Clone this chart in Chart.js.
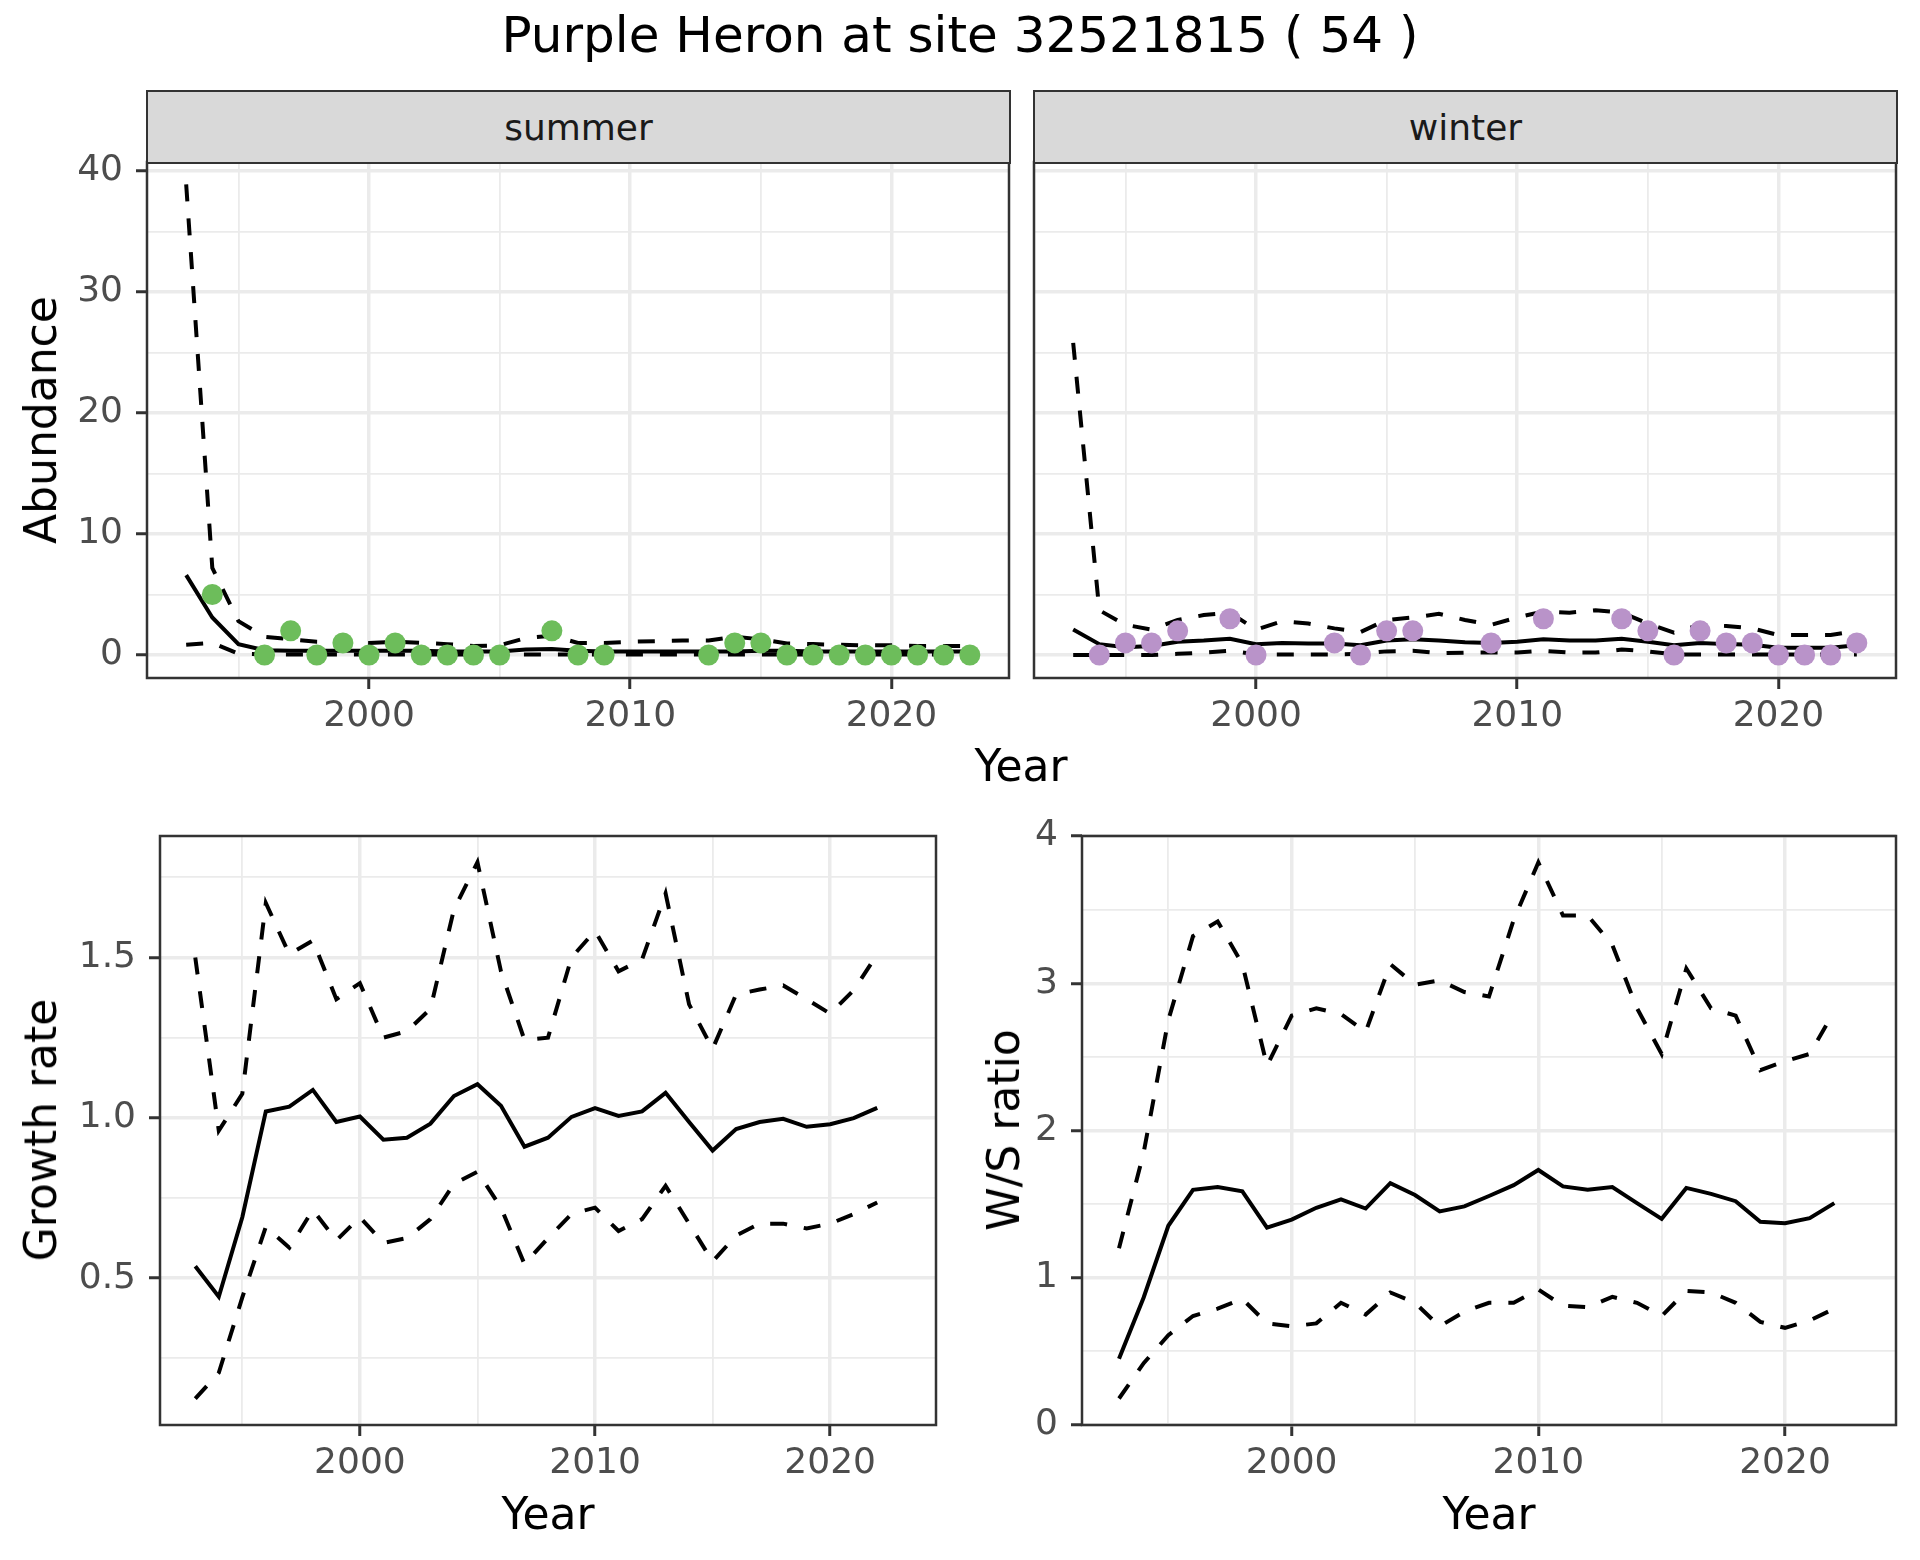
<!DOCTYPE html>
<html>
<head>
<meta charset="utf-8">
<script src="https://cdn.jsdelivr.net/npm/chart.js@4.4.1/dist/chart.umd.min.js"></script>
<style>
  body { margin: 0; width: 1920px; height: 1560px; background: #fff; position: relative; overflow: hidden; font-family: "DejaVu Sans", sans-serif; }
  .box { position: absolute; }
  .txt { position: absolute; white-space: nowrap; line-height: 1; color: #000; }
  .strip { position: absolute; box-sizing: border-box; background: #d9d9d9; border: 2.5px solid #333; color: #1a1a1a;
           font-size: 36px; display: flex; align-items: center; justify-content: center; z-index: 2; }
  .ytitle { position: absolute; white-space: nowrap; line-height: 1; font-size: 44px; transform: translate(-50%, -50%) rotate(-90deg); }
</style>
</head>
<body>
<div class="txt" style="left:960px; top:10px; font-size:50px; transform:translateX(-50%);">Purple Heron at site 32521815 ( 54 )</div>

<div class="strip" style="left:146px; top:90px; width:865px; height:74px;">summer</div>
<div class="strip" style="left:1033px; top:90px; width:865px; height:74px;">winter</div>

<div class="box" style="left:0px; top:142px; width:1013px; height:616px;"><canvas id="summerChart"></canvas></div>
<div class="box" style="left:1030px; top:142px; width:870px; height:616px;"><canvas id="winterChart"></canvas></div>
<div class="box" style="left:0px; top:816px; width:940px; height:689px;"><canvas id="growthChart"></canvas></div>
<div class="box" style="left:940px; top:816px; width:960px; height:689px;"><canvas id="ratioChart"></canvas></div>

<div class="ytitle" style="left:41px; top:420px;">Abundance</div>
<div class="ytitle" style="left:41px; top:1130px;">Growth rate</div>
<div class="ytitle" style="left:1004px; top:1130px;">W/S ratio</div>
<div class="txt" style="left:1021px; top:744px; font-size:44px; transform:translateX(-50%);">Year</div>
<div class="txt" style="left:548px; top:1492px; font-size:44px; transform:translateX(-50%);">Year</div>
<div class="txt" style="left:1489px; top:1492px; font-size:44px; transform:translateX(-50%);">Year</div>

<script>
// Years of the survey
const years = [1993, 1994, 1995, 1996, 1997, 1998, 1999, 2000, 2001, 2002, 2003, 2004, 2005, 2006, 2007, 2008,
  2009, 2010, 2011, 2012, 2013, 2014, 2015, 2016, 2017, 2018, 2019, 2020, 2021, 2022, 2023];
const rateYears = [1993, 1994, 1995, 1996, 1997, 1998, 1999, 2000, 2001, 2002, 2003, 2004, 2005, 2006, 2007, 2008,
  2009, 2010, 2011, 2012, 2013, 2014, 2015, 2016, 2017, 2018, 2019, 2020, 2021, 2022];

// Summer counts and fitted abundance
const summerCounts = [null, 5, null, 0, 2, 0, 1, 0, 1, 0, 0, 0, 0, null, 2, 0, 0, null, null, null, 0, 1, 1, 0, 0, 0, 0, 0, 0, 0, 0];
const summerMean = [6.6, 3.1, 0.9, 0.4, 0.35, 0.35, 0.35, 0.35, 0.35, 0.35, 0.3, 0.3, 0.3, 0.45, 0.5, 0.35, 0.3, 0.3, 0.3, 0.3, 0.3, 0.3, 0.35, 0.35, 0.3, 0.3, 0.3, 0.3, 0.3, 0.3, 0.3];
const summerUpper = [38.9, 7.2, 2.8, 1.5, 1.3, 1.1, 1.05, 1.0, 1.1, 1.0, 0.9, 0.75, 0.8, 1.4, 1.6, 1.0, 1.0, 1.1, 1.15, 1.2, 1.2, 1.5, 1.3, 0.95, 0.9, 0.85, 0.8, 0.8, 0.75, 0.75, 0.75];
const summerLower = [0.85, 1.0, 0.1, 0.05, 0.05, 0.05, 0.05, 0.05, 0.05, 0.05, 0.05, 0.05, 0.05, 0.05, 0.05, 0.05, 0.05, 0.05, 0.05, 0.05, 0.05, 0.05, 0.05, 0.05, 0.05, 0.05, 0.05, 0.05, 0.05, 0.05, 0.05];

// Winter counts and fitted abundance
const winterCounts = [null, 0, 1, 1, 2, null, 3, 0, null, null, 1, 0, 2, 2, null, null, 1, null, 3, null, null, 3, 2, 0, 2, 1, 1, 0, 0, 0, 1];
const winterMean = [2.1, 0.9, 0.65, 0.75, 1.1, 1.2, 1.35, 0.9, 1.0, 0.95, 0.95, 0.8, 1.2, 1.3, 1.2, 1.05, 1.0, 1.1, 1.3, 1.2, 1.2, 1.35, 1.1, 0.8, 1.0, 0.9, 0.85, 0.6, 0.6, 0.6, 0.8];
const winterUpper = [25.8, 3.7, 2.5, 2.1, 2.9, 3.3, 3.5, 2.1, 2.8, 2.6, 2.2, 1.9, 2.9, 3.1, 3.4, 2.9, 2.5, 3.1, 3.6, 3.5, 3.7, 3.5, 2.6, 1.85, 2.5, 2.4, 2.2, 1.65, 1.65, 1.65, 2.0];
const winterLower = [0, 0, 0, 0, 0.1, 0.2, 0.35, 0.05, 0.05, 0.05, 0.05, 0.1, 0.3, 0.35, 0.15, 0.2, 0.2, 0.2, 0.35, 0.2, 0.2, 0.45, 0.3, 0.05, 0.05, 0.05, 0.05, 0.05, 0.05, 0.05, 0.05];

// Growth rate
const growthMean = [0.537, 0.442, 0.69, 1.02, 1.035, 1.087, 0.987, 1.004, 0.932, 0.938, 0.982, 1.068, 1.105, 1.038, 0.91, 0.938, 1.003, 1.03, 1.006, 1.02, 1.078, 0.987, 0.898, 0.965, 0.987, 0.997, 0.972, 0.98, 0.999, 1.031];
const growthUpper = [1.5, 0.96, 1.075, 1.67, 1.51, 1.553, 1.37, 1.42, 1.25, 1.27, 1.34, 1.65, 1.797, 1.457, 1.243, 1.25, 1.5, 1.583, 1.457, 1.494, 1.70, 1.354, 1.215, 1.385, 1.4, 1.413, 1.37, 1.325, 1.398, 1.51];
const growthLower = [0.124, 0.205, 0.44, 0.66, 0.595, 0.713, 0.618, 0.69, 0.61, 0.625, 0.684, 0.794, 0.832, 0.72, 0.544, 0.625, 0.70, 0.72, 0.647, 0.684, 0.788, 0.67, 0.552, 0.633, 0.67, 0.67, 0.655, 0.67, 0.70, 0.736];

// Winter / summer ratio
const ratioMean = [0.45, 0.866, 1.353, 1.597, 1.616, 1.587, 1.34, 1.395, 1.475, 1.533, 1.47, 1.642, 1.562, 1.45, 1.485, 1.555, 1.629, 1.732, 1.62, 1.597, 1.616, 1.507, 1.40, 1.61, 1.57, 1.52, 1.38, 1.37, 1.405, 1.507];
const ratioUpper = [1.2, 1.85, 2.75, 3.32, 3.42, 3.13, 2.44, 2.78, 2.83, 2.79, 2.67, 3.13, 2.99, 3.02, 2.94, 2.91, 3.43, 3.82, 3.46, 3.46, 3.26, 2.83, 2.52, 3.1, 2.83, 2.78, 2.41, 2.47, 2.52, 2.81];
const ratioLower = [0.18, 0.42, 0.61, 0.74, 0.79, 0.856, 0.69, 0.67, 0.69, 0.83, 0.75, 0.90, 0.83, 0.67, 0.77, 0.83, 0.83, 0.92, 0.81, 0.80, 0.87, 0.83, 0.74, 0.91, 0.90, 0.83, 0.70, 0.66, 0.71, 0.79];

// Tick positions (major ones get labels, the rest are minor grid lines)
const yearTicks = [1995, 2000, 2005, 2010, 2015, 2020];
const yearLabels = [2000, 2010, 2020];
const abundanceTicks = [0, 5, 10, 15, 20, 25, 30, 35, 40];
const abundanceLabels = [0, 10, 20, 30, 40];
const growthTicks = [0.25, 0.5, 0.75, 1.0, 1.25, 1.5, 1.75];
const growthLabels = [0.5, 1.0, 1.5];
const ratioTicks = [0, 0.5, 1, 1.5, 2, 2.5, 3, 3.5, 4];
const ratioLabels = [0, 1, 2, 3, 4];

const GREEN = '#6dbd5b';
const PURPLE = '#b993c9';
const FONT = 'DejaVu Sans';

function toPoints(xs, ys) {
  return xs.map((x, i) => ({ x: x, y: ys[i] })).filter(p => p.y !== null);
}

function lineSet(xs, ys, dashed) {
  return {
    data: toPoints(xs, ys),
    borderColor: '#000',
    borderWidth: 4,
    borderDash: dashed ? [17, 17] : [],
    pointRadius: 0,
    tension: 0,
    fill: false,
    order: 1
  };
}

function dotSet(xs, ys, colour) {
  return {
    data: toPoints(xs, ys),
    showLine: false,
    backgroundColor: colour,
    pointBackgroundColor: colour,
    pointBorderWidth: 0,
    pointRadius: 10.5,
    order: 0
  };
}

function gridOpts(majors, showTicks) {
  return {
    color: '#ebebeb',
    lineWidth: c => (c.tick && majors.includes(c.tick.value)) ? 3.5 : 1.8,
    tickColor: c => (showTicks && c.tick && majors.includes(c.tick.value)) ? '#333333' : 'rgba(0,0,0,0)',
    tickWidth: 3,
    tickLength: 11,
    drawTicks: showTicks
  };
}

function xScale() {
  return {
    type: 'linear',
    min: 1991.5,
    max: 2024.5,
    afterBuildTicks: s => { s.ticks = yearTicks.map(v => ({ value: v })); },
    afterFit: s => { s.height = 80; s.paddingLeft = 0; s.paddingRight = 0; },
    ticks: {
      callback: v => yearLabels.includes(v) ? String(v) : '',
      color: '#4d4d4d',
      font: { size: 36, family: FONT },
      padding: 6,
      maxRotation: 0,
      autoSkip: false
    },
    grid: gridOpts(yearLabels, true),
    border: { display: false }
  };
}

function yScale(min, max, tickVals, labelVals, fmt, width) {
  return {
    type: 'linear',
    min: min,
    max: max,
    afterBuildTicks: s => { s.ticks = tickVals.map(v => ({ value: v })); },
    afterFit: s => { s.width = width; s.paddingTop = 0; s.paddingBottom = 0; },
    ticks: {
      display: width > 0,
      callback: v => labelVals.includes(v) ? fmt(v) : '',
      color: '#4d4d4d',
      font: { size: 36, family: FONT },
      padding: 13,
      autoSkip: false
    },
    grid: gridOpts(labelVals, width > 0),
    border: { display: false }
  };
}

// draws the full grey frame round each panel
const panelBorder = {
  id: 'panelBorder',
  afterDraw(chart) {
    const a = chart.chartArea;
    const ctx = chart.ctx;
    ctx.save();
    ctx.strokeStyle = '#333333';
    ctx.lineWidth = 2.5;
    ctx.strokeRect(a.left, a.top, a.right - a.left, a.bottom - a.top);
    ctx.restore();
  }
};

function makeChart(id, datasets, yOpts, padLeft) {
  new Chart(document.getElementById(id), {
    type: 'line',
    data: { datasets: datasets },
    options: {
      responsive: true,
      maintainAspectRatio: false,
      animation: false,
      devicePixelRatio: 1,
      layout: { autoPadding: false, padding: { top: 20, right: 4, left: padLeft, bottom: 0 } },
      plugins: { legend: { display: false }, tooltip: { enabled: false } },
      scales: { x: xScale(), y: yOpts }
    },
    plugins: [panelBorder]
  });
}

document.addEventListener('DOMContentLoaded', () => {
  const intLabel = v => String(v);

  makeChart('summerChart', [
    dotSet(years, summerCounts, GREEN),
    lineSet(years, summerMean, false),
    lineSet(years, summerUpper, true),
    lineSet(years, summerLower, true)
  ], yScale(-1.9, 40.75, abundanceTicks, abundanceLabels, intLabel, 147), 0);

  makeChart('winterChart', [
    dotSet(years, winterCounts, PURPLE),
    lineSet(years, winterMean, false),
    lineSet(years, winterUpper, true),
    lineSet(years, winterLower, true)
  ], yScale(-1.9, 40.75, abundanceTicks, abundanceLabels, intLabel, 0), 4);

  makeChart('growthChart', [
    lineSet(rateYears, growthMean, false),
    lineSet(rateYears, growthUpper, true),
    lineSet(rateYears, growthLower, true)
  ], yScale(0.042, 1.879, growthTicks, growthLabels, v => v.toFixed(1), 160), 0);

  makeChart('ratioChart', [
    lineSet(rateYears, ratioMean, false),
    lineSet(rateYears, ratioUpper, true),
    lineSet(rateYears, ratioLower, true)
  ], yScale(0, 4, ratioTicks, ratioLabels, intLabel, 142), 0);
});
</script>
</body>
</html>
